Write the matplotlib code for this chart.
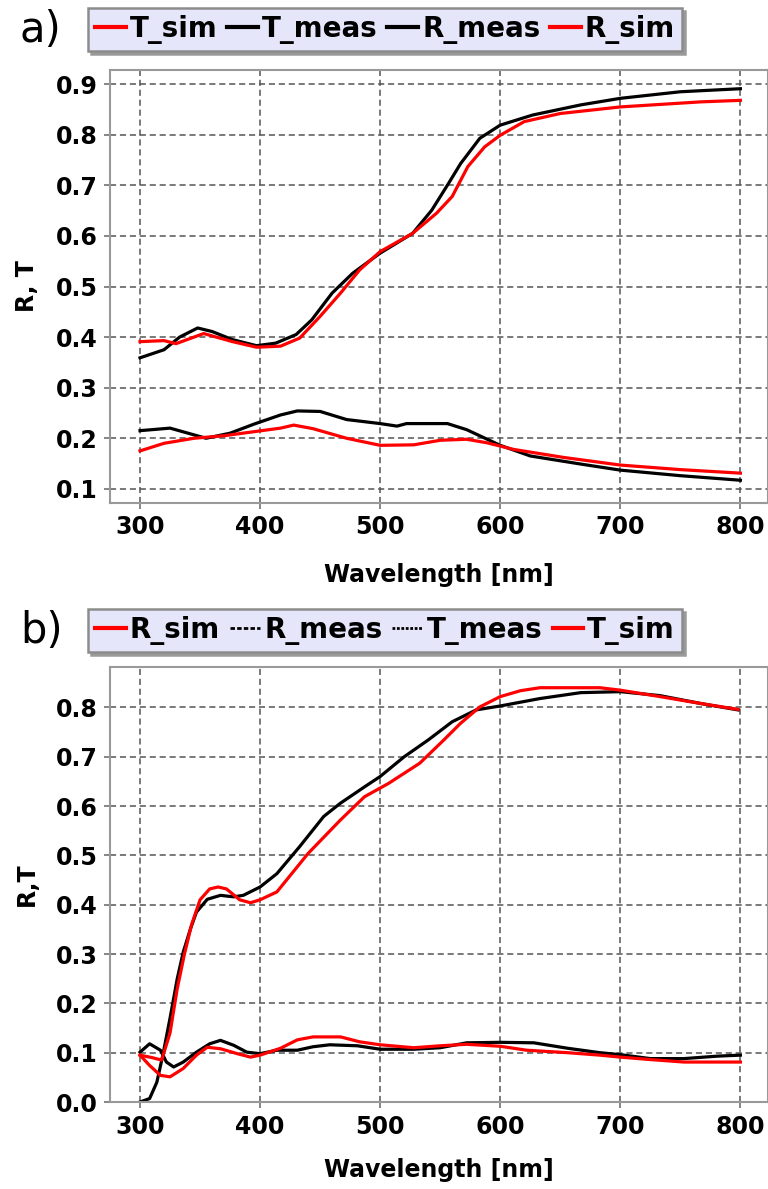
import matplotlib
matplotlib.use("Agg")
import matplotlib.pyplot as plt
from matplotlib.lines import Line2D

# ---- panel a data ----
wl_a_tmeas = [300, 320, 333, 348, 360, 377, 397, 413, 430, 443, 460, 477, 500, 527,
              543, 557, 567, 583, 600, 627, 667, 700, 750, 800]
t_meas_a = [0.359, 0.375, 0.400, 0.418, 0.411, 0.395, 0.383, 0.388, 0.405, 0.434,
            0.487, 0.526, 0.566, 0.605, 0.651, 0.704, 0.743, 0.793, 0.819, 0.839,
            0.859, 0.872, 0.885, 0.891]

wl_a_tsim = [300, 320, 330, 353, 377, 397, 417, 433, 450, 467, 483, 500, 527, 547,
             560, 573, 587, 600, 620, 650, 700, 767, 800]
t_sim_a = [0.391, 0.393, 0.387, 0.407, 0.391, 0.380, 0.382, 0.398, 0.441, 0.487,
           0.533, 0.569, 0.605, 0.645, 0.678, 0.737, 0.776, 0.799, 0.826, 0.842,
           0.855, 0.865, 0.868]

wl_a_rmeas = [300, 325, 340, 355, 375, 395, 417, 431, 450, 472, 500, 514, 522, 556,
              572, 600, 625, 667, 700, 750, 800]
r_meas_a = [0.215, 0.220, 0.210, 0.200, 0.210, 0.228, 0.246, 0.254, 0.253, 0.237,
            0.229, 0.224, 0.229, 0.229, 0.217, 0.186, 0.165, 0.149, 0.137, 0.126,
            0.117]

wl_a_rsim = [300, 320, 345, 370, 395, 417, 428, 444, 472, 500, 528, 550, 572, 589,
             611, 653, 700, 750, 800]
r_sim_a = [0.175, 0.190, 0.200, 0.205, 0.213, 0.220, 0.226, 0.219, 0.200, 0.186,
           0.187, 0.196, 0.198, 0.191, 0.178, 0.162, 0.147, 0.138, 0.131]

# ---- panel b data ----
wl_b_tmeas = [300, 308, 314, 319, 325, 331, 336, 342, 347, 356, 367, 378, 386, 400,
              414, 433, 453, 467, 487, 500, 520, 540, 560, 580, 600, 633, 667, 700,
              733, 767, 798]
t_meas_b = [0.000, 0.007, 0.040, 0.095, 0.170, 0.250, 0.304, 0.351, 0.385, 0.411,
            0.419, 0.416, 0.419, 0.436, 0.463, 0.518, 0.579, 0.606, 0.639, 0.660,
            0.700, 0.734, 0.771, 0.795, 0.803, 0.818, 0.830, 0.832, 0.824, 0.808,
            0.795]

wl_b_tsim = [300, 310, 318, 325, 331, 337, 343, 350, 358, 365, 372, 383, 392, 400,
             414, 422, 440, 467, 487, 507, 533, 553, 567, 583, 600, 617, 633, 683,
             700, 733, 767, 798]
t_sim_b = [0.095, 0.090, 0.085, 0.140, 0.230, 0.300, 0.360, 0.410, 0.432, 0.436,
           0.432, 0.410, 0.404, 0.410, 0.426, 0.450, 0.504, 0.572, 0.619, 0.646,
           0.687, 0.734, 0.768, 0.801, 0.822, 0.834, 0.840, 0.840, 0.835, 0.822,
           0.808, 0.796]

wl_b_rmeas = [300, 308, 317, 322, 328, 336, 347, 358, 367, 378, 389, 400, 414, 431,
              444, 458, 481, 500, 528, 550, 572, 600, 628, 656, 683, 700, 725, 753,
              781, 800]
r_meas_b = [0.101, 0.118, 0.105, 0.081, 0.071, 0.081, 0.101, 0.118, 0.125, 0.115,
            0.101, 0.098, 0.105, 0.105, 0.112, 0.116, 0.114, 0.107, 0.107, 0.110,
            0.120, 0.121, 0.120, 0.109, 0.100, 0.096, 0.088, 0.088, 0.093, 0.095]

wl_b_rsim = [300, 308, 317, 325, 336, 347, 356, 367, 381, 392, 400, 417, 431, 444,
             467, 483, 500, 528, 550, 572, 600, 622, 656, 683, 700, 725, 753, 800]
r_sim_b = [0.095, 0.074, 0.054, 0.051, 0.068, 0.095, 0.111, 0.108, 0.098, 0.091,
           0.095, 0.109, 0.126, 0.132, 0.132, 0.122, 0.116, 0.110, 0.114, 0.117,
           0.113, 0.105, 0.100, 0.095, 0.091, 0.086, 0.081, 0.081]

x_ticks = [300, 400, 500, 600, 700, 800]
labels_a = ["T_sim", "T_meas", "R_meas", "R_sim"]
labels_b = ["R_sim", "R_meas", "T_meas", "T_sim"]

RED = "#ff0000"
LW = 2.3
plt.rcParams["font.family"] = "DejaVu Sans"

fig = plt.figure(figsize=(7.68, 11.89), dpi=100)
W, H = 768.0, 1189.0


def style_axes(ax, ylim, yticks, ylabel, xlabel_y):
    ax.set_xlim(275, 823)
    ax.set_ylim(*ylim)
    ax.set_xticks(x_ticks)
    ax.set_yticks(yticks)
    ax.set_yticklabels([f"{v:.1f}" for v in yticks])
    ax.grid(True, color="#555555", linestyle=(0, (4, 2.5)), linewidth=1.1)
    ax.set_axisbelow(True)
    for sp in ax.spines.values():
        sp.set_color("#999999")
        sp.set_linewidth(1.5)
    ax.tick_params(direction="out", length=4, width=1.1, color="#666666",
                   labelsize=17, pad=5)
    for lab in ax.get_xticklabels() + ax.get_yticklabels():
        lab.set_fontweight("bold")
    ax.set_xlabel("Wavelength [nm]", fontsize=17, fontweight="bold")
    ax.set_ylabel(ylabel, fontsize=17, fontweight="bold")
    ax.xaxis.set_label_coords(0.5, xlabel_y)
    ax.yaxis.set_label_coords(-0.108, 0.5)


def add_legend(handles, labels, top_px):
    leg = fig.legend(handles, labels, loc="upper left",
                     bbox_to_anchor=(88 / W, 1 - top_px / H), ncol=4,
                     frameon=True, fancybox=False,
                     shadow={"color": "#9a9a9a", "alpha": 1},
                     prop={"size": 20, "weight": "bold"},
                     handlelength=1.1, handletextpad=0.15, columnspacing=0.35,
                     borderpad=0.25, borderaxespad=0)
    fr = leg.get_frame()
    fr.set_facecolor("#e6e6fa")
    fr.set_edgecolor("#8c8c8c")
    fr.set_linewidth(1.8)
    fr.set_alpha(1)


# panel a
ax_a = fig.add_axes([110 / W, 1 - 503 / H, 658 / W, 433 / H])
ax_a.plot(wl_a_tmeas, t_meas_a, color="black", lw=LW)
ax_a.plot(wl_a_rmeas, r_meas_a, color="black", lw=LW)
ax_a.plot(wl_a_tsim, t_sim_a, color=RED, lw=LW)
ax_a.plot(wl_a_rsim, r_sim_a, color=RED, lw=LW)
style_axes(ax_a, (0.072, 0.928), [0.1, 0.2, 0.3, 0.4, 0.5, 0.6, 0.7, 0.8, 0.9],
           "R, T", -0.139)

handles_a = [Line2D([], [], color=RED, lw=3), Line2D([], [], color="black", lw=3),
             Line2D([], [], color="black", lw=3), Line2D([], [], color=RED, lw=3)]
add_legend(handles_a, labels_a, 8)
fig.text(20 / W, 1 - 30 / H, "a)", fontsize=30, va="center", ha="left")

# panel b
ax_b = fig.add_axes([110 / W, 1 - 1102 / H, 658 / W, 435 / H])
ax_b.plot(wl_b_tmeas, t_meas_b, color="black", lw=LW)
ax_b.plot(wl_b_rmeas, r_meas_b, color="black", lw=LW)
ax_b.plot(wl_b_tsim, t_sim_b, color=RED, lw=LW)
ax_b.plot(wl_b_rsim, r_sim_b, color=RED, lw=LW)
style_axes(ax_b, (0.0, 0.882), [0.0, 0.1, 0.2, 0.3, 0.4, 0.5, 0.6, 0.7, 0.8],
           "R,T", -0.129)

handles_b = [Line2D([], [], color=RED, lw=3),
             Line2D([], [], color="black", lw=2, linestyle=(0, (1.6, 0.8))),
             Line2D([], [], color="black", lw=2, linestyle=(0, (1.0, 0.6))),
             Line2D([], [], color=RED, lw=3)]
add_legend(handles_b, labels_b, 609)
fig.text(20 / W, 1 - 631 / H, "b)", fontsize=30, va="center", ha="left")

fig.savefig("out.png", dpi=100)
